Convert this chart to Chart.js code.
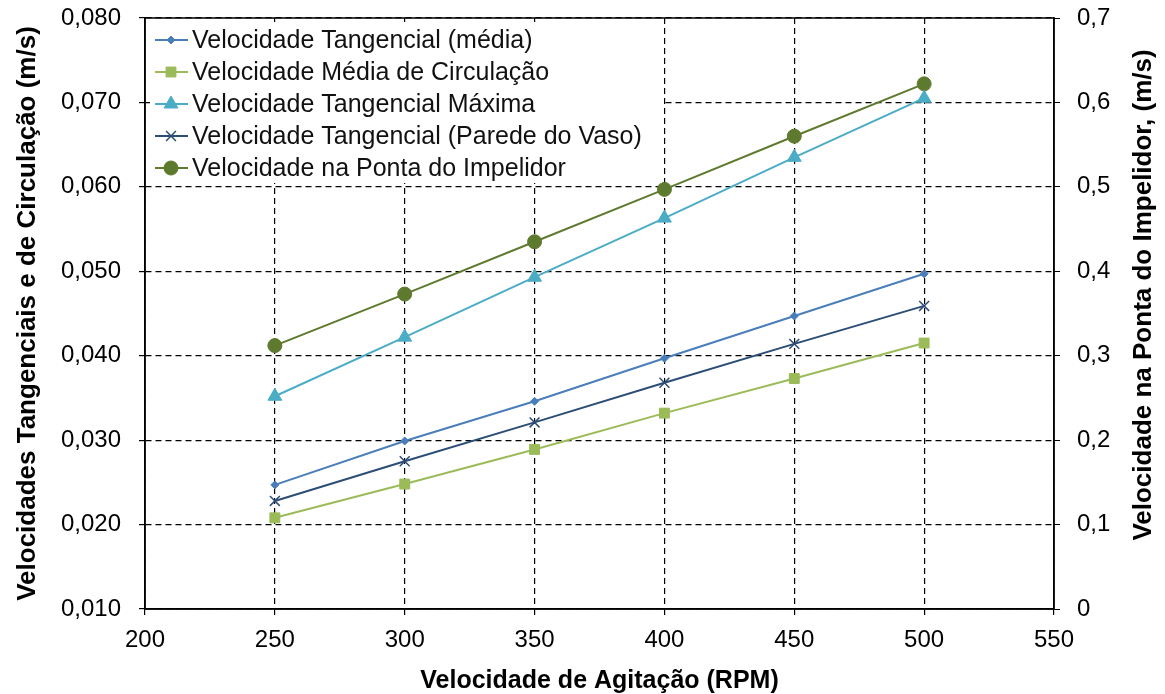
<!DOCTYPE html>
<html>
<head>
<meta charset="utf-8">
<script src="https://cdn.jsdelivr.net/npm/chart.js@4"></script>
<style>
  html, body { margin: 0; padding: 0; background: #fff; }
  #wrap { width: 1165px; height: 694px; }
</style>
</head>
<body>
<div id="wrap"><canvas id="c" width="1165" height="694"></canvas></div>
<script>
// data
const rpm = [250, 300, 350, 400, 450, 500];
const velTangMedia = [0.0247, 0.0299, 0.0346, 0.0397, 0.0447, 0.0497];
const velMediaCirc = [0.0208, 0.0248, 0.0289, 0.0332, 0.0373, 0.0415];
const velTangMax = [0.0352, 0.0422, 0.0493, 0.0563, 0.0635, 0.0705];
const velTangParede = [0.0228, 0.0275, 0.0321, 0.0368, 0.0414, 0.0459];
const velPonta = [0.312, 0.373, 0.435, 0.497, 0.560, 0.622];

const seriesNames = [
    'Velocidade Tangencial (média)',
    'Velocidade Média de Circulação',
    'Velocidade Tangencial Máxima',
    'Velocidade Tangencial (Parede do Vaso)',
    'Velocidade na Ponta do Impelidor'
];
const rightTitle = 'Velocidade na Ponta do Impelidor, (m/s)';

const FONT = "'Liberation Sans', Arial, sans-serif";

function pts(ys) {
    return rpm.map((x, i) => ({x: x, y: ys[i]}));
}

function mkSet(label, ys, color, style, radius, axis) {
    return {
        label: label,
        data: pts(ys),
        yAxisID: axis,
        borderColor: color,
        backgroundColor: color,
        borderWidth: 2,
        pointStyle: style,
        pointRadius: radius,
        pointBorderWidth: style === 'crossRot' ? 1.5 : 1,
        pointBorderColor: color,
        pointBackgroundColor: color,
        tension: 0
    };
}

// no extra room for label overflow, the boxes are sized by hand
function noPad(s) {
    s.paddingTop = 0; s.paddingBottom = 0; s.paddingLeft = 0; s.paddingRight = 0;
}

// legend inside the plot (top left, white box), frame, and the right axis title
const boxLegend = {
    id: 'boxLegend',
    afterDatasetsDraw(chart) {
        const ctx = chart.ctx;
        const a = chart.chartArea;
        const x0 = a.left + 5, y0 = a.top + 4;
        ctx.save();
        ctx.fillStyle = '#fff';
        ctx.fillRect(x0, y0, 512, 161);
        ctx.font = '25px ' + FONT;
        ctx.textBaseline = 'middle';
        chart.data.datasets.forEach((ds, i) => {
            const cy = y0 + 18 + i * 32;
            ctx.strokeStyle = ds.borderColor;
            ctx.lineWidth = 2;
            ctx.beginPath();
            ctx.moveTo(x0 + 5, cy);
            ctx.lineTo(x0 + 38, cy);
            ctx.stroke();
            ctx.fillStyle = ds.backgroundColor;
            ctx.lineWidth = ds.pointBorderWidth;
            Chart.helpers.drawPoint(ctx, {pointStyle: ds.pointStyle, radius: ds.pointRadius, rotation: 0, borderWidth: ds.pointBorderWidth}, x0 + 21, cy);
            ctx.fillStyle = '#111';
            ctx.fillText(ds.label, x0 + 42, cy + 1);
        });
        ctx.restore();
    },
    afterDraw(chart) {
        const a = chart.chartArea;
        const ctx = chart.ctx;
        ctx.save();
        ctx.strokeStyle = '#000';
        ctx.lineWidth = 1.5;
        ctx.strokeRect(a.left, a.top, a.right - a.left, a.bottom - a.top);
        // right title reads bottom to top, like the left one
        ctx.translate(1144, 295);
        ctx.rotate(-Math.PI / 2);
        ctx.fillStyle = '#000';
        ctx.font = 'bold 26px ' + FONT;
        ctx.textAlign = 'center';
        ctx.textBaseline = 'middle';
        ctx.fillText(rightTitle, 0, 0);
        ctx.restore();
    }
};

new Chart(document.getElementById('c'), {
    type: 'line',
    data: {
        datasets: [
            mkSet(seriesNames[0], velTangMedia, '#4a7ebb', 'rectRot', 4, 'y'),
            mkSet(seriesNames[1], velMediaCirc, '#9bbb59', 'rect', 7, 'y'),
            mkSet(seriesNames[2], velTangMax, '#4bacc6', 'triangle', 8, 'y'),
            mkSet(seriesNames[3], velTangParede, '#2c4d75', 'crossRot', 7, 'y'),
            mkSet(seriesNames[4], velPonta, '#5e7a2e', 'circle', 7, 'y2')
        ]
    },
    options: {
        responsive: false,
        animation: false,
        layout: {padding: {top: 18, left: 0, right: 0, bottom: 0}},
        plugins: {legend: {display: false}, tooltip: {enabled: false}},
        scales: {
            x: {
                type: 'linear',
                min: 200, max: 550,
                ticks: {stepSize: 50, color: '#000', padding: 11, font: {family: FONT, size: 24}},
                grid: {color: '#000', lineWidth: 1.2, tickLength: 6},
                border: {display: true, color: '#000', width: 1.5, dash: [6, 4]},
                title: {display: true, text: 'Velocidade de Agitação (RPM)', color: '#000',
                        font: {family: FONT, size: 25, weight: 'bold', lineHeight: 1}, padding: {bottom: 0}},
                afterFit(s) { s.height = 85; noPad(s); }
            },
            y: {
                position: 'left',
                min: 0.010, max: 0.080,
                ticks: {stepSize: 0.010, color: '#000', padding: 18, font: {family: FONT, size: 24},
                        callback: v => v.toFixed(3).replace('.', ',')},
                grid: {color: '#000', lineWidth: 1.2, tickLength: 6},
                border: {display: true, color: '#000', width: 1.5, dash: [6, 4]},
                title: {display: true, text: 'Velocidades Tangenciais e de Circulação (m/s)', color: '#000',
                        font: {family: FONT, size: 26, weight: 'bold', lineHeight: 1}, padding: {top: 15}},
                afterFit(s) { s.width = 145; noPad(s); }
            },
            y2: {
                position: 'right',
                min: 0, max: 0.7,
                ticks: {stepSize: 0.1, color: '#000', padding: 17, font: {family: FONT, size: 24},
                        callback: v => v === 0 ? '0' : v.toFixed(1).replace('.', ',')},
                grid: {drawOnChartArea: false, color: '#000', tickLength: 6},
                border: {display: true, color: '#000', width: 1.5},
                afterFit(s) { s.width = 111; noPad(s); }
            }
        }
    },
    plugins: [boxLegend]
});
</script>
</body>
</html>
